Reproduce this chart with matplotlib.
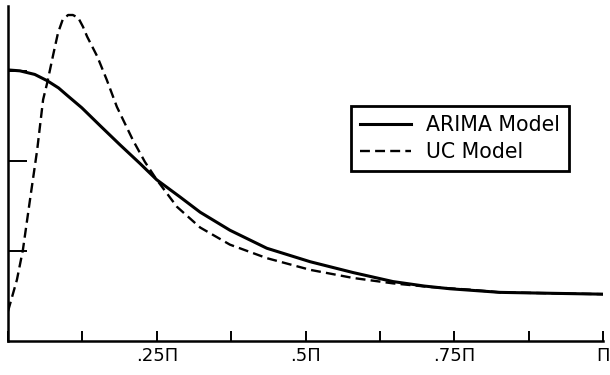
import matplotlib
matplotlib.use("Agg")
import matplotlib.pyplot as plt
import numpy as np

# frekans (pi'nin kesri olarak) ve spektrum değerleri
arima_x = [0.0, 0.020, 0.045, 0.066, 0.085, 0.099, 0.124, 0.155, 0.188, 0.222,
           0.250, 0.289, 0.323, 0.373, 0.435, 0.508, 0.580, 0.647, 0.700, 0.743,
           0.827, 0.911, 1.0]
arima_y = [3.01, 3.00, 2.96, 2.89, 2.81, 2.73, 2.59, 2.39, 2.18, 1.97,
           1.79, 1.60, 1.43, 1.23, 1.03, 0.88, 0.76, 0.66, 0.61, 0.58,
           0.54, 0.53, 0.52]

uc_x = [0.0, 0.015, 0.025, 0.037, 0.049, 0.059, 0.066, 0.076, 0.084, 0.092,
        0.101, 0.109, 0.118, 0.126, 0.133, 0.150, 0.166, 0.183, 0.210, 0.230,
        0.250, 0.284, 0.323, 0.373, 0.435, 0.508, 0.580, 0.647, 0.709, 0.776,
        0.827, 1.0]
uc_y = [0.33, 0.68, 1.01, 1.57, 2.12, 2.68, 2.87, 3.18, 3.42, 3.57,
        3.62, 3.62, 3.59, 3.49, 3.38, 3.16, 2.90, 2.60, 2.23, 1.99,
        1.79, 1.49, 1.26, 1.07, 0.92, 0.79, 0.70, 0.64, 0.60, 0.57,
        0.54, 0.52]

x_ticks = [0, 0.125, 0.25, 0.375, 0.5, 0.625, 0.75, 0.875, 1.0]
x_labels = ["", "", ".25\u03a0", "", ".5\u03a0", "", ".75\u03a0", "", "\u03a0"]
y_ticks = [1, 2, 3]

fig = plt.figure(figsize=(6.1, 3.75), dpi=100)
ax = fig.add_axes([8/610, 34/375, 595/610, 335/375])

ax.plot(arima_x, arima_y, color="black", lw=2.2, label="ARIMA Model")
ax.plot(uc_x, uc_y, color="black", lw=1.7, dashes=(4.2, 2.2), label="UC Model")

ax.set_xlim(0, 1)
ax.set_ylim(0, 3.72)
ax.spines["top"].set_visible(False)
ax.spines["right"].set_visible(False)
ax.spines["left"].set_linewidth(1.8)
ax.spines["bottom"].set_linewidth(1.8)

ax.set_xticks(x_ticks)
ax.set_xticklabels(x_labels, fontsize=13)
ax.set_yticks(y_ticks)
ax.set_yticklabels([])
ax.tick_params(axis="x", direction="in", length=7.5, width=1.4, pad=4)
ax.tick_params(axis="y", direction="in", length=13.5, width=1.4)

leg = ax.legend(loc="upper left", bbox_to_anchor=(0.576, 0.701), borderaxespad=0,
                fontsize=14.8, fancybox=False, framealpha=1, handlelength=2.5,
                handletextpad=0.7, borderpad=0.45, labelspacing=0.32)
leg.get_frame().set_edgecolor("black")
leg.get_frame().set_linewidth(2)

plt.savefig("out.png", dpi=100)
